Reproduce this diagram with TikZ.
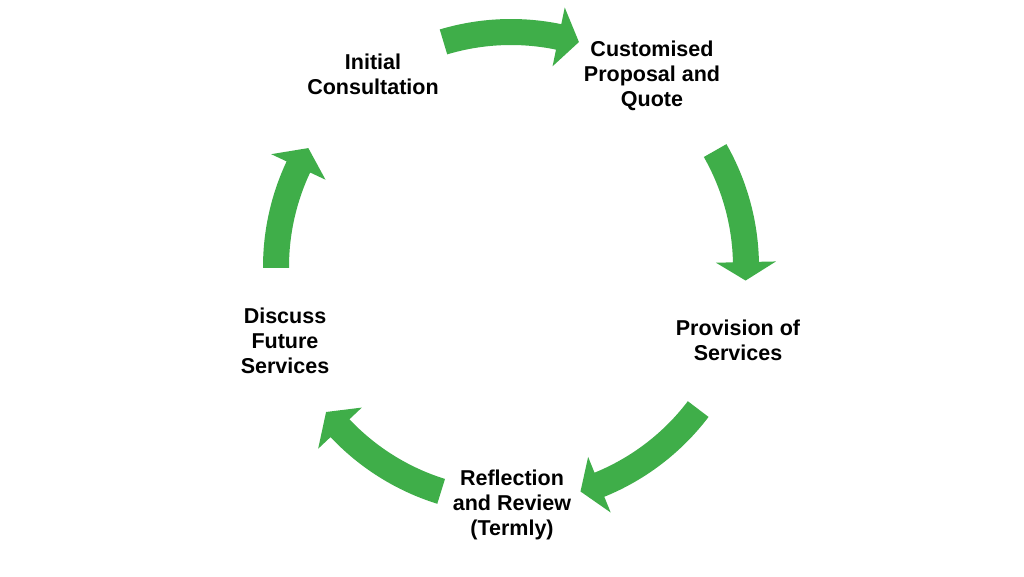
\documentclass[tikz,border=0pt]{standalone}
\usepackage{fontspec}
\setmainfont{Liberation Sans}
\usetikzlibrary{calc}
\definecolor{arrowgreen}{RGB}{63,174,73}
\tikzset{
  steplabel/.style={align=center, text=black, inner sep=0pt,
    font=\fontsize{21.5}{25}\selectfont\bfseries},
  cyclearrow/.style={fill=arrowgreen, draw=none}
}
% #1 tail angle, #2 head base angle, #3 tip angle
\newcommand{\cyclearrowshape}[3]{%
  \fill[cyclearrow] ($(c)+(#1:248)$) arc[start angle=#1, end angle=#2, radius=248]
    -- ($(c)+(#2:265)$) -- ($(c)+(#3:235)$) -- ($(c)+(#2:205)$)
    -- ($(c)+(#2:222)$) arc[start angle=#2, end angle=#1, radius=222] -- cycle;}
\begin{document}
\begin{tikzpicture}[x=1pt,y=1pt]
  \fill[white] (0,0) rectangle (1024,576);
  \useasboundingbox (0,0) rectangle (1024,576);
  \coordinate (c) at (511,309);
  % labels (y measured from the top: 576 - y)
  \node[steplabel] (initial)   at (373,502) {Initial\\Consultation};
  \node[steplabel] (proposal)  at (652,500) {Customised\\Proposal and\\Quote};
  \node[steplabel] (provision) at (738,236) {Provision of\\Services};
  \node[steplabel] (review)    at (512,71)  {Reflection\\and Review\\(Termly)};
  \node[steplabel] (discuss)   at (285,235) {Discuss\\Future\\Services};
  % curved block arrows of the cycle
  \cyclearrowshape{106.7}{78.3}{73.2}
  \cyclearrowshape{29.7}{1.2}{-3.3}
  \cyclearrowshape{-37.2}{-67.9}{-72.8}
  \cyclearrowshape{-107.3}{-136.7}{-141.9}
  \cyclearrowshape{180.2}{154.8}{149.6}
\end{tikzpicture}
\end{document}
